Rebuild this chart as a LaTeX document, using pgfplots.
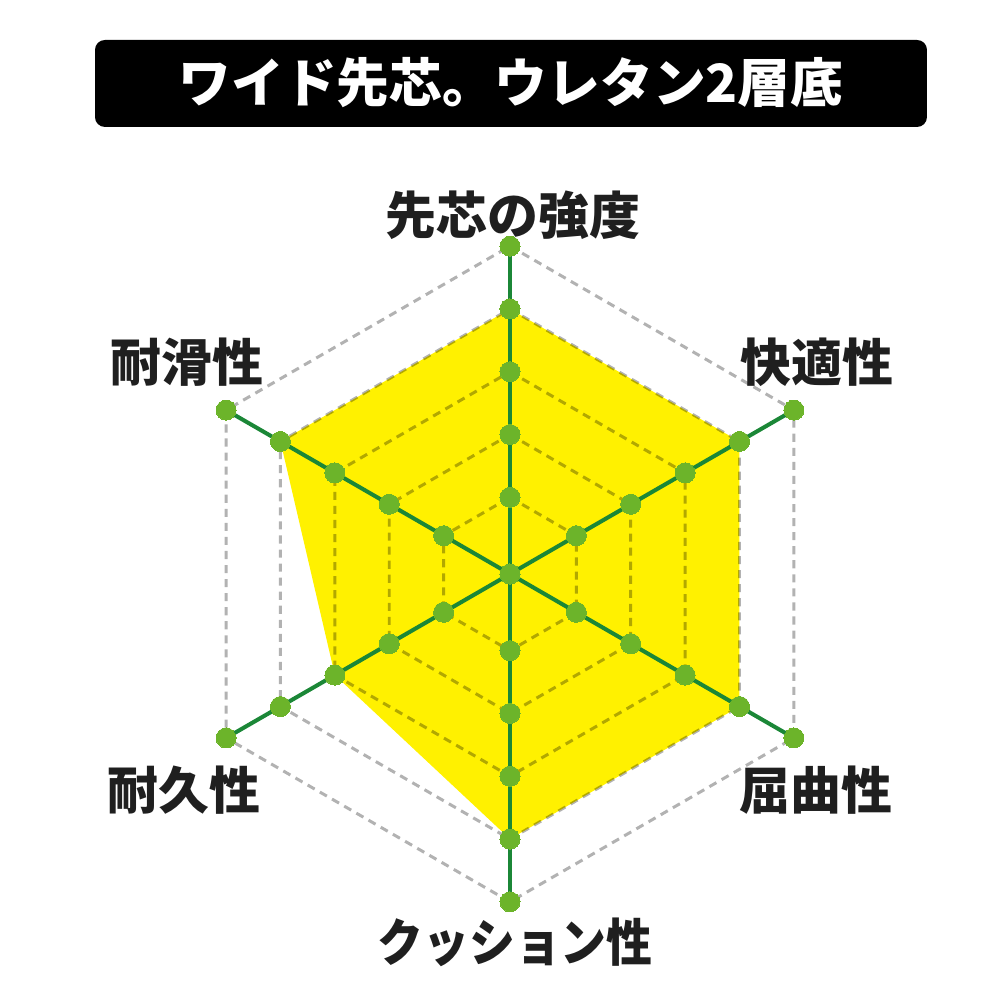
\documentclass[border=0pt]{standalone}
\usepackage{pgfplots}
\usepackage{pgfplotstable}
\pgfplotsset{compat=1.18}
\usepackage{fontspec}
\newfontfamily\cjk{Noto Sans CJK JP}
\definecolor{fillyellow}{RGB}{255,241,0}
\definecolor{spokegreen}{RGB}{27,135,55}
\definecolor{markgreen}{RGB}{108,180,42}
\tikzset{lbl/.style={font={\cjk\bfseries\fontsize{14.5}{17}\selectfont}, text=black!88}}
% scores per axis (angle in degrees, score 0-5)
\pgfplotstableread{
angle score
90    4
30    4
-30   4
-90   4
-150  3
150   4
90    4
}\scores
% the level dots along each spoke
\pgfplotstableread{
angle level
90 1
90 2
90 3
90 4
90 5
30 1
30 2
30 3
30 4
30 5
-30 1
-30 2
-30 3
-30 4
-30 5
-90 1
-90 2
-90 3
-90 4
-90 5
-150 1
-150 2
-150 3
-150 4
-150 5
150 1
150 2
150 3
150 4
150 5
}\levels
\def\roff{0.22}
\begin{document}
\begin{tikzpicture}
\begin{axis}[
  scale only axis, width=10cm, height=10cm,
  xmin=-8.121, xmax=7.803, ymin=-6.783, ymax=9.140,
  hide axis, clip=false,
]
\path (rel axis cs:0,0) rectangle (rel axis cs:1,1);
% score polygon
\addplot[fill=fillyellow, draw=none, data cs=polar]
  table[x=angle, y expr=\thisrow{score}+\roff] {\scores};
% grid hexagons
\foreach \r in {1,...,5}{
  \pgfmathsetmacro\rr{\r+\roff}
  \addplot[black, opacity=0.3, line width=0.85pt, dash pattern=on 2.3pt off 1.7pt, data cs=polar]
    coordinates {(90,\rr) (30,\rr) (-30,\rr) (-90,\rr) (-150,\rr) (150,\rr) (90,\rr)};
}
% spokes
\pgfmathsetmacro\rmax{5+\roff}
\foreach \a in {90,30,-30,-90,-150,150}{
  \addplot[spokegreen, line width=1.15pt, data cs=polar] coordinates {(\a,0) (\a,\rmax)};
}
% level markers
\addplot[markgreen, only marks, mark=*, mark size=2.85pt, mark options={fill=markgreen, draw=markgreen, line width=0pt}, data cs=polar]
  table[x=angle, y expr=\thisrow{level}+\roff] {\levels};
\addplot[markgreen, only marks, mark=*, mark size=2.85pt, mark options={fill=markgreen, draw=markgreen, line width=0pt}]
  coordinates {(0,0)};
% title box
\fill[black, rounded corners=2.8pt] (axis cs:-6.608,8.503) rectangle (axis cs:6.640,7.118);
\node[text=white, font={\cjk\bfseries\fontsize{15}{18}\selectfont}] at (axis cs:0.016,7.818) {ワイド先芯。ウレタン2層底};
% axis labels
\node[lbl] at (axis cs:0.048,5.717) {先芯の強度};
\node[lbl] at (axis cs:4.889,3.376) {快適性};
\node[lbl] at (axis cs:4.873,-3.439) {屈曲性};
\node[lbl, xscale=0.9] at (axis cs:0.080,-5.860) {クッション性};
\node[lbl] at (axis cs:-5.191,-3.439) {耐久性};
\node[lbl] at (axis cs:-5.143,3.376) {耐滑性};
\end{axis}
\end{tikzpicture}
\end{document}
